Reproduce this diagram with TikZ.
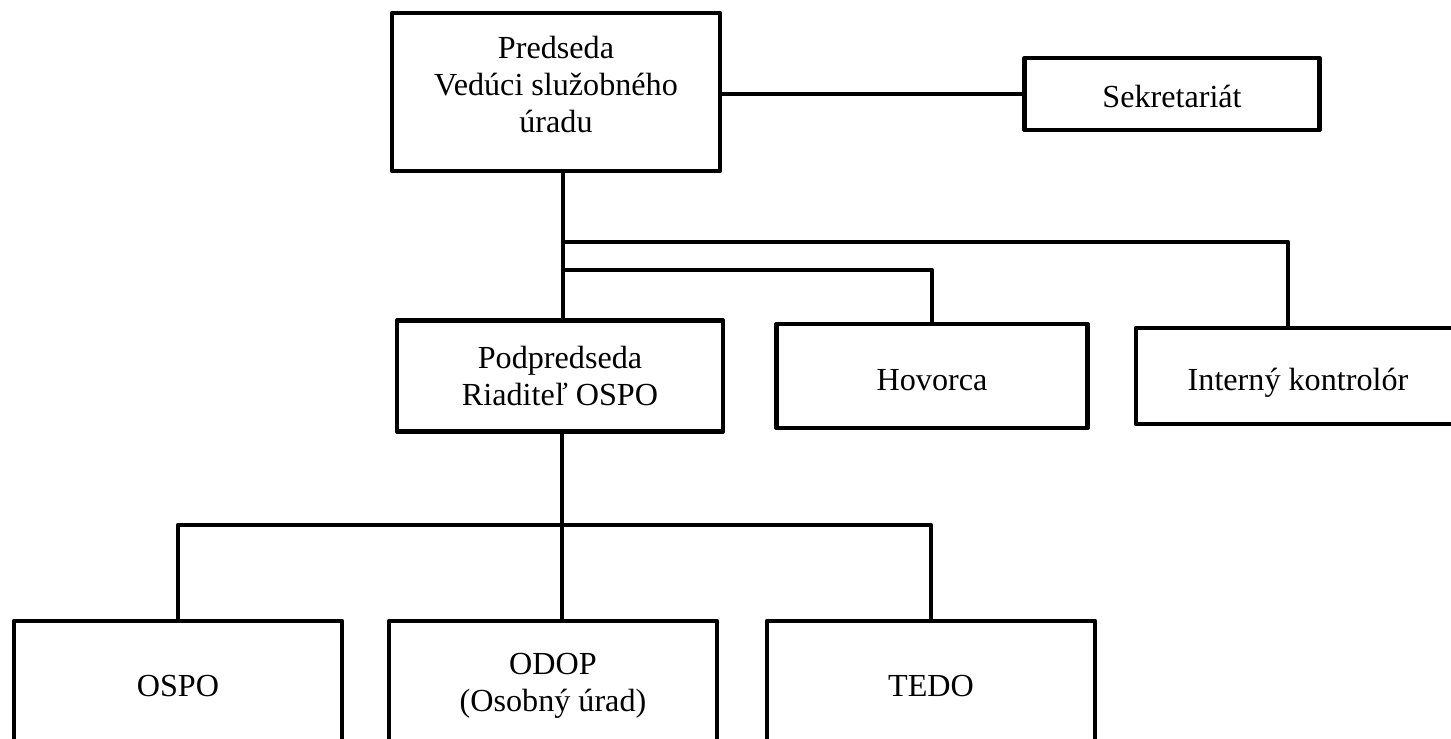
\documentclass[tikz,border=0pt]{standalone}
\usepackage{fontspec}
\setmainfont{Liberation Serif}
\usetikzlibrary{calc}
\tikzset{
	unit/.style={draw, line width=0.09cm, line join=round, align=center, inner sep=0pt,
		font=\fontsize{18.3}{21}\selectfont},
	low/.style={text height=0.6cm, text depth=0.04cm},
	link/.style={line width=0.09cm, line join=round}
}

\begin{document}
\begin{tikzpicture}[x=0.02cm, y=-0.02cm]
			%%%%% START %%%%%
			
			\useasboundingbox (0, 0) rectangle (1451, 738);
			\clip (0, 0) rectangle (1451, 738);
			
			\node[unit, minimum width=6.56cm, minimum height=3.16cm] (pres) at (556, 92) {Predseda\\Vedúci služobného\\úradu\\[-12pt]\mbox{}};
			\node[unit, low, text height=0.56cm, minimum width=5.9cm, minimum height=1.44cm] (sekr) at (1172, 94) {Sekretariát};
			
			\node[unit, minimum width=6.52cm, minimum height=2.22cm] (podp) at (560, 376) {Podpredseda\\Riaditeľ OSPO};
			\node[unit, low, minimum width=6.22cm, minimum height=2.08cm] (hovo) at (932, 376) {Hovorca};
			\node[unit, low, minimum width=6.48cm, minimum height=1.92cm] (kont) at (1298, 376) {Interný kontrolór};
			
			\node[unit, minimum width=6.56cm, minimum height=2.6cm] (ospo) at (178, 686) {OSPO};
			\node[unit, minimum width=6.56cm, minimum height=2.6cm] (odop) at (553, 686) {ODOP\\(Osobný úrad)};
			\node[unit, minimum width=6.56cm, minimum height=2.6cm] (tedo) at (931, 686) {TEDO};
			
			\coordinate (top1) at (563, 242);
			\coordinate (top2) at (563, 270);
			\coordinate (kdrop) at (1288, 242);
			\coordinate (bot1) at (562, 525);
			
			\draw[link] (sekr.west -| pres.east) -- (sekr.west);
			\draw[link] (top1 |- pres.south) -- (top1 |- podp.north);
			\draw[link] (top1) -- (kdrop) -- (kdrop |- kont.north);
			\draw[link] (top2) -| (hovo.north);
			
			\draw[link] (bot1 |- podp.south) -- (bot1 |- odop.north);
			\draw[link] (ospo.north) -- (ospo.north |- bot1) -- (tedo.north |- bot1) -- (tedo.north);
			
			%%%%% END %%%%%
\end{tikzpicture}
\end{document}
